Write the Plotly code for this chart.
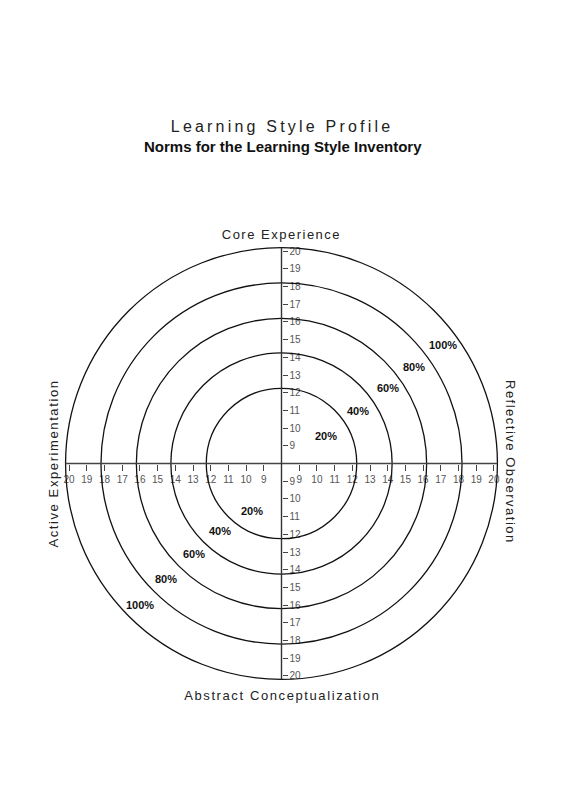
import json
import plotly.graph_objects as go

# ---------------- data ----------------
tick_values = [9, 10, 11, 12, 13, 14, 15, 16, 17, 18, 19, 20]   # score ticks on every half-axis
center_value = 8.0                                              # score value at the centre of the chart
percentile_labels = ["20%", "40%", "60%", "80%", "100%"]
percentile_scores = [12.25, 14.25, 16.2, 18.2, 20.2]            # score reached by each norm ring
axis_names = ["Core Experience", "Reflective Observation",
              "Abstract Conceptualization", "Active Experimentation"]
title_text = "Learning Style Profile"
subtitle_text = "Norms for the Learning Style Inventory"

# ---------------- layout constants ----------------
W, H = 565, 800
ML, MR, MT, MB = 63, 65, 245, 118
PW = W - ML - MR            # plot width  (437)
PH = H - MT - MB            # plot height (437)
R = 12.345                  # half range in score units
FONT = "Liberation Sans, Arial, Helvetica, sans-serif"

def coord(v):
    return v - center_value

def px_x(px):
    return (px - ML) / PW

def px_y(py):
    return (H - MB - py) / PH

ring_r = [coord(s) for s in percentile_scores]
axis_end = ring_r[-1]

fig = go.Figure()
# invisible trace to set up the axes
fig.add_trace(go.Scatter(x=[-R, R], y=[-R, R], mode="markers",
                         marker=dict(opacity=0), hoverinfo="skip", showlegend=False))

shapes = []
for r in ring_r:
    shapes.append(dict(type="circle", xref="x", yref="y", x0=-r, x1=r, y0=-r, y1=r,
                       line=dict(color="#111111", width=1.3), layer="above"))
shapes.append(dict(type="line", xref="x", yref="y", x0=-axis_end, x1=axis_end, y0=0, y1=0,
                   line=dict(color="#444444", width=1.5), layer="above"))
shapes.append(dict(type="line", xref="x", yref="y", x0=0, x1=0, y0=-axis_end, y1=axis_end,
                   line=dict(color="#333333", width=1.4), layer="above"))

neg_vals = [-coord(v) for v in reversed(tick_values)]
pos_vals = [coord(v) for v in tick_values]
tickvals = neg_vals + pos_vals
ticktext = [str(v) for v in reversed(tick_values)] + [str(v) for v in tick_values]

tickfont = dict(family=FONT, size=10, color="#555555")

annotations = []
# percentile labels (upper-right and lower-left quadrants), offsets in score units
ur_pos = [(2.54, 1.53), (4.35, 2.99), (5.99, 4.24), (7.46, 5.48), (9.10, 6.67)]
ll_pos = [(-1.64, -2.71), (-3.50, -3.79), (-4.97, -5.14), (-6.55, -6.50), (-7.97, -8.02)]
for lab, (ux, uy), (lx, ly) in zip(percentile_labels, ur_pos, ll_pos):
    for (x, y) in [(ux, uy), (lx, ly)]:
        annotations.append(dict(x=x, y=y, xref="x", yref="y", text="<b>%s</b>" % lab,
                                showarrow=False, font=dict(family=FONT, size=11, color="#111111"),
                                xanchor="center", yanchor="middle"))

def paper_text(text, px, py, size, bold=False, angle=0, color="#222222"):
    t = "<b>%s</b>" % text if bold else text
    return dict(x=px_x(px), y=px_y(py), xref="paper", yref="paper", text=t, showarrow=False,
                font=dict(family=FONT, size=size, color=color), textangle=angle,
                xanchor="center", yanchor="middle")

annotations.append(paper_text(title_text, 282, 127, 16))
annotations.append(paper_text(subtitle_text, 283, 146, 15, bold=True, color="#111111"))
annotations.append(paper_text(axis_names[0], 281, 234, 13))
annotations.append(paper_text(axis_names[1], 510.5, 462, 13, angle=90))
annotations.append(paper_text(axis_names[2], 282, 695, 13))
annotations.append(paper_text(axis_names[3], 53, 464, 13, angle=-90))

fig.update_layout(
    width=W, height=H,
    margin=dict(l=ML, r=MR, t=MT, b=MB, pad=0),
    paper_bgcolor="white", plot_bgcolor="white",
    showlegend=False,
    shapes=shapes,
    annotations=annotations,
    xaxis=dict(range=[-R, R], tickvals=tickvals, ticktext=ticktext,
               ticks="outside", ticklen=6, tickwidth=1.1, tickcolor="#444444",
               tickfont=tickfont, showline=False, showgrid=False, zeroline=False,
               anchor="free", position=0.5, side="bottom", fixedrange=True),
    yaxis=dict(range=[-R, R], tickvals=tickvals, ticktext=ticktext,
               ticks="outside", ticklen=5, tickwidth=1.1, tickcolor="#444444",
               tickfont=tickfont, showline=False, showgrid=False, zeroline=False,
               anchor="free", position=0.5, side="right", fixedrange=True),
)

spacing = [[title_text, "3.2px"], [axis_names[0], "1.5px"], [axis_names[1], "1.5px"],
           [axis_names[2], "1.6px"], [axis_names[3], "1.6px"]]
post = ("document.body.style.margin='0';"
        "var S=new Map(" + json.dumps(spacing) + ");"
        "document.querySelectorAll('text.annotation-text').forEach(t => "
        "S.has(t.textContent.replace(/\\s/g,' ')) && "
        "(t.style.letterSpacing = S.get(t.textContent.replace(/\\s/g,' '))));")

fig.write_html("out.html", config={"displayModeBar": False}, post_script=post)
